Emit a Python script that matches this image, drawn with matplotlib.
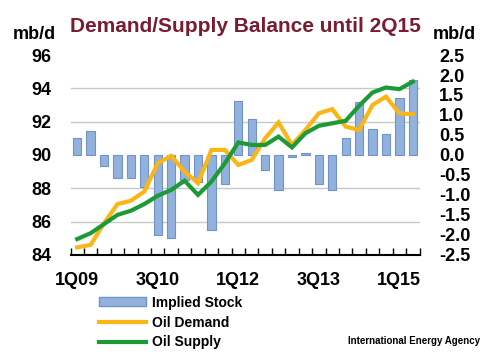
import numpy as np
from matplotlib import pyplot as plt
from matplotlib.patches import Patch
from matplotlib.lines import Line2D

plt.rcParams['font.family'] = ['Liberation Sans', 'DejaVu Sans']
plt.rcParams['font.weight'] = 'bold'

quarters = ['1Q09','2Q09','3Q09','4Q09','1Q10','2Q10','3Q10','4Q10',
            '1Q11','2Q11','3Q11','4Q11','1Q12','2Q12','3Q12','4Q12',
            '1Q13','2Q13','3Q13','4Q13','1Q14','2Q14','3Q14','4Q14',
            '1Q15','2Q15']
implied_stock = [0.42, 0.6, -0.27, -0.57, -0.58, -0.8, -2.0, -2.07,
                 -0.62, -0.68, -1.87, -0.72, 1.34, 0.89, -0.38, -0.87,
                 -0.06, 0.05, -0.73, -0.88, 0.42, 1.33, 0.66, 0.52,
                 1.42, 1.87]
oil_demand = [84.45, 84.6, 85.9, 87.05, 87.25, 87.8, 89.5, 89.95,
              89.0, 88.3, 90.3, 90.3, 89.4, 89.7, 91.0, 91.95,
              90.6, 91.5, 92.5, 92.75, 91.7, 91.5, 93.0, 93.5,
              92.5, 92.45]
oil_supply = [84.95, 85.3, 85.85, 86.4, 86.65, 87.05, 87.55, 87.9,
              88.45, 87.6, 88.4, 89.5, 90.75, 90.6, 90.6, 91.1,
              90.45, 91.3, 91.75, 91.9, 92.05, 92.95, 93.75, 94.05,
              93.95, 94.4]
label_quarters = ['1Q09', '3Q10', '1Q12', '3Q13', '1Q15']

x = np.arange(len(quarters))

fig = plt.figure(figsize=(5, 3.62), dpi=100)
ax = fig.add_axes([0.141, 0.296, 0.698, 0.552])
ax2 = ax.twinx()
ax.set_zorder(ax2.get_zorder() + 1)
ax.patch.set_visible(False)

bar_c = '#92b1dc'
ax2.bar(x, implied_stock, width=0.62, color=bar_c, edgecolor='#6f93c9', linewidth=0.8)
ax.plot(x, oil_demand, color='#fbb514', lw=3, solid_joinstyle='miter')
ax.plot(x, oil_supply, color='#1b9a35', lw=3, solid_joinstyle='miter')

ax.set_xlim(-0.5, len(x) - 0.5)
ax.set_ylim(84, 96)
ax2.set_ylim(-2.5, 2.5)
ax.set_yticks(np.arange(84, 97, 2))
ax2.set_yticks(np.arange(-2.5, 2.51, 0.5))
ax2.set_yticklabels(['%.1f' % v for v in np.arange(-2.5, 2.51, 0.5)])

# grid at left-axis levels, drawn behind the bars
ax2.set_yticks(np.linspace(-2.5, 2.5, 7), minor=True)
ax2.grid(which='minor', axis='y', color='#c8c8c8', lw=1)
ax2.set_axisbelow(True)
ax2.tick_params(which='minor', length=0)

ax.set_xticks(np.arange(len(x) + 1) - 0.5)
ax.set_xticklabels([])
ax.set_xticks([quarters.index(q) for q in label_quarters], minor=True)
ax.set_xticklabels(label_quarters, minor=True)
ax.tick_params(axis='x', which='major', direction='in', length=5, width=1, color='black')
ax.tick_params(axis='x', which='minor', length=0, pad=12, labelsize=13)
ax.tick_params(axis='y', length=0, labelsize=13, pad=14)
ax2.tick_params(axis='y', length=0, labelsize=13, pad=14)

for a in (ax, ax2):
    for s in ['top', 'left', 'right', 'bottom']:
        a.spines[s].set_visible(False)
ax.spines['bottom'].set_visible(True)
ax.spines['bottom'].set_linewidth(1.5)

fig.text(0.49, 0.928, 'Demand/Supply Balance until 2Q15', ha='center', va='center',
         fontsize=15, color='#7a1c30', fontweight='bold')
fig.text(0.025, 0.905, 'mb/d', ha='left', va='center', fontsize=13, fontweight='bold')
fig.text(0.866, 0.905, 'mb/d', ha='left', va='center', fontsize=13, fontweight='bold')

handles = [Patch(facecolor=bar_c, edgecolor='#6f93c9'),
           Line2D([], [], color='#fbb514', lw=3),
           Line2D([], [], color='#1b9a35', lw=3)]
fig.legend(handles, ['Implied Stock', 'Oil Demand', 'Oil Supply'],
           loc='upper left', bbox_to_anchor=(0.198, 0.183), frameon=False,
           fontsize=10, handlelength=3.4, handleheight=0.6, labelspacing=0.42,
           handletextpad=0.4, borderpad=0, borderaxespad=0)
fig.text(0.96, 0.058, 'International Energy Agency', ha='right', va='center',
         fontsize=7, fontweight='bold',
         family=['Liberation Sans Narrow', 'Liberation Sans', 'DejaVu Sans'])

fig.savefig('out.png', dpi=100)
